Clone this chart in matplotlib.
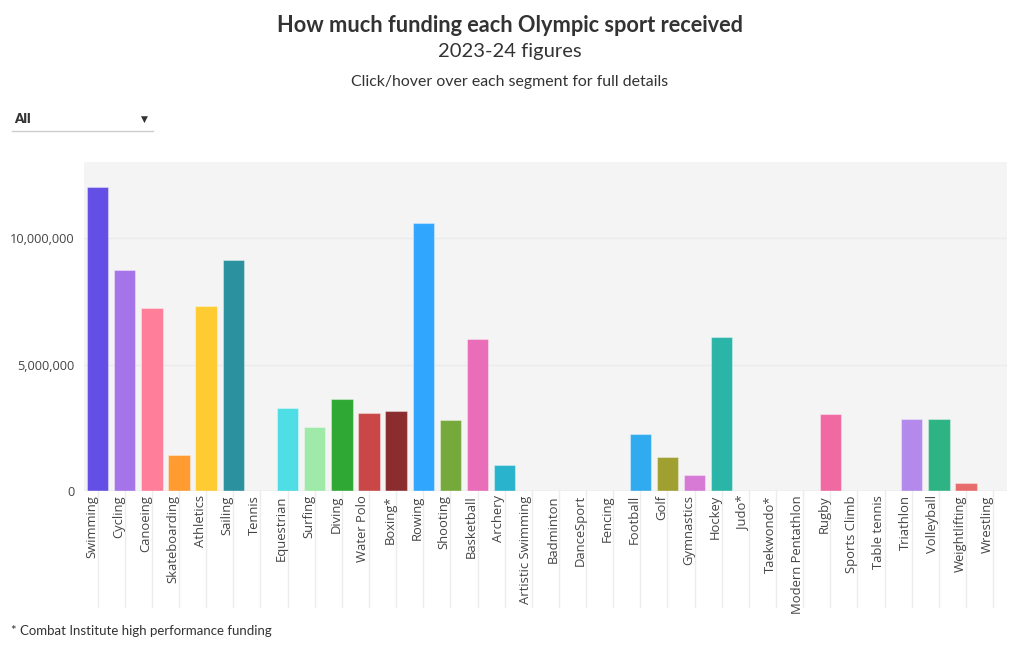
import matplotlib
matplotlib.use("Agg")
import matplotlib.pyplot as plt
import matplotlib.transforms as mtransforms
from matplotlib.ticker import FuncFormatter, FixedLocator

# Olympic sport funding, 2023-24
sports = ["Swimming", "Cycling", "Canoeing", "Skateboarding", "Athletics", "Sailing",
          "Tennis", "Equestrian", "Surfing", "Diving", "Water Polo", "Boxing*",
          "Rowing", "Shooting", "Basketball", "Archery", "Artistic Swimming",
          "Badminton", "DanceSport", "Fencing", "Football", "Golf", "Gymnastics",
          "Hockey", "Judo*", "Taekwondo*", "Modern Pentathlon", "Rugby",
          "Sports Climb", "Table tennis", "Triathlon", "Volleyball",
          "Weightlifting", "Wrestling"]
funding = [12040000, 8750000, 7240000, 1410000, 7330000, 9150000,
           0, 3270000, 2540000, 3640000, 3070000, 3170000,
           10590000, 2820000, 6000000, 1040000, 0,
           0, 0, 0, 2260000, 1360000, 620000,
           6110000, 0, 0, 0, 3060000,
           0, 0, 2840000, 2860000,
           330000, 0]
colors = ["#634ee6", "#a574e8", "#ff7e99", "#ff9b31", "#fecb33", "#2b919e",
          "#888888", "#4fdde6", "#9feaa8", "#2fa834", "#c94747", "#8b2c2e",
          "#31a6fe", "#76a93b", "#e96db8", "#2ab3cd", "#888888",
          "#888888", "#888888", "#888888", "#31abef", "#a0a030", "#d67ad6",
          "#2bb5a9", "#888888", "#888888", "#888888", "#f06aa1",
          "#888888", "#888888", "#b38aec", "#2db384",
          "#e86b6b", "#888888"]

fig = plt.figure(figsize=(10.2, 6.5), dpi=100)
ax = fig.add_axes([84 / 1020, 159 / 650, 922.7 / 1020, 329 / 650])
ax.set_facecolor("#f4f4f4")

x = list(range(len(sports)))
ax.bar(x, funding, width=0.79, color=colors, edgecolor=(1, 1, 1, 0.35), linewidth=0.8, zorder=3)

ax.set_xlim(-0.5, len(sports) - 0.5)
ax.set_ylim(0, 13020000)

ax.yaxis.set_major_locator(FixedLocator([0, 5000000, 10000000]))
ax.yaxis.set_major_formatter(FuncFormatter(lambda v, p: f"{int(v):,}"))
ax.grid(axis="y", color="#ebebeb", linewidth=1, zorder=0)
for s in ax.spines.values():
    s.set_visible(False)
ax.axhline(0, color="#e6e6e6", linewidth=1, zorder=4)

ax.tick_params(axis="y", length=0, pad=7, labelsize=9.2, labelcolor="#444444")
ax.tick_params(axis="x", length=0, pad=3, labelsize=9.4, labelcolor="#444444")
ax.set_xticks(x)
ax.set_xticklabels(sports, rotation=90, ha="center", va="top")
shift = mtransforms.ScaledTranslation(-6 / 100, 0, fig.dpi_scale_trans)
for lbl in ax.get_xticklabels():
    lbl.set_transform(lbl.get_transform() + shift)
for lbl in ax.get_xticklabels() + ax.get_yticklabels():
    lbl.set_family(["Open Sans", "DejaVu Sans"])

# long light tick lines under each category
trans = mtransforms.blended_transform_factory(ax.transData, ax.transAxes)
for xi in x:
    ax.plot([xi, xi], [0, -0.353], transform=trans, color="#ececec", linewidth=1,
            clip_on=False, zorder=1)

# titles
fig.text(0.5, 1 - 25 / 650, "How much funding each Olympic sport received", ha="center",
         va="center", fontsize=15.7, fontweight="bold", color="#333333", family="Lato")
fig.text(0.5, 1 - 51 / 650, "2023-24 figures", ha="center", va="center",
         fontsize=14.5, color="#333333", family="Lato")
fig.text(0.5, 1 - 82 / 650, "Click/hover over each segment for full details", ha="center",
         va="center", fontsize=11.4, color="#333333", family="Lato")

# dropdown look-alike
fig.text(14 / 1020, 1 - 119 / 650, "All", ha="left", va="center", fontsize=9.5,
         fontweight="heavy", color="#333333", family="Lato")
fig.text(144 / 1020, 1 - 119 / 650, "\u25BC", ha="center", va="center", fontsize=6.5,
         color="#333333")
fig.add_artist(plt.Line2D([12 / 1020, 153 / 1020], [1 - 131 / 650, 1 - 131 / 650],
                          color="#cccccc", linewidth=1))

fig.text(11 / 1020, 1 - 631 / 650, "* Combat Institute high performance funding", ha="left",
         va="center", fontsize=9.5, color="#333333", family="Lato")

fig.savefig("out.png", dpi=100)
